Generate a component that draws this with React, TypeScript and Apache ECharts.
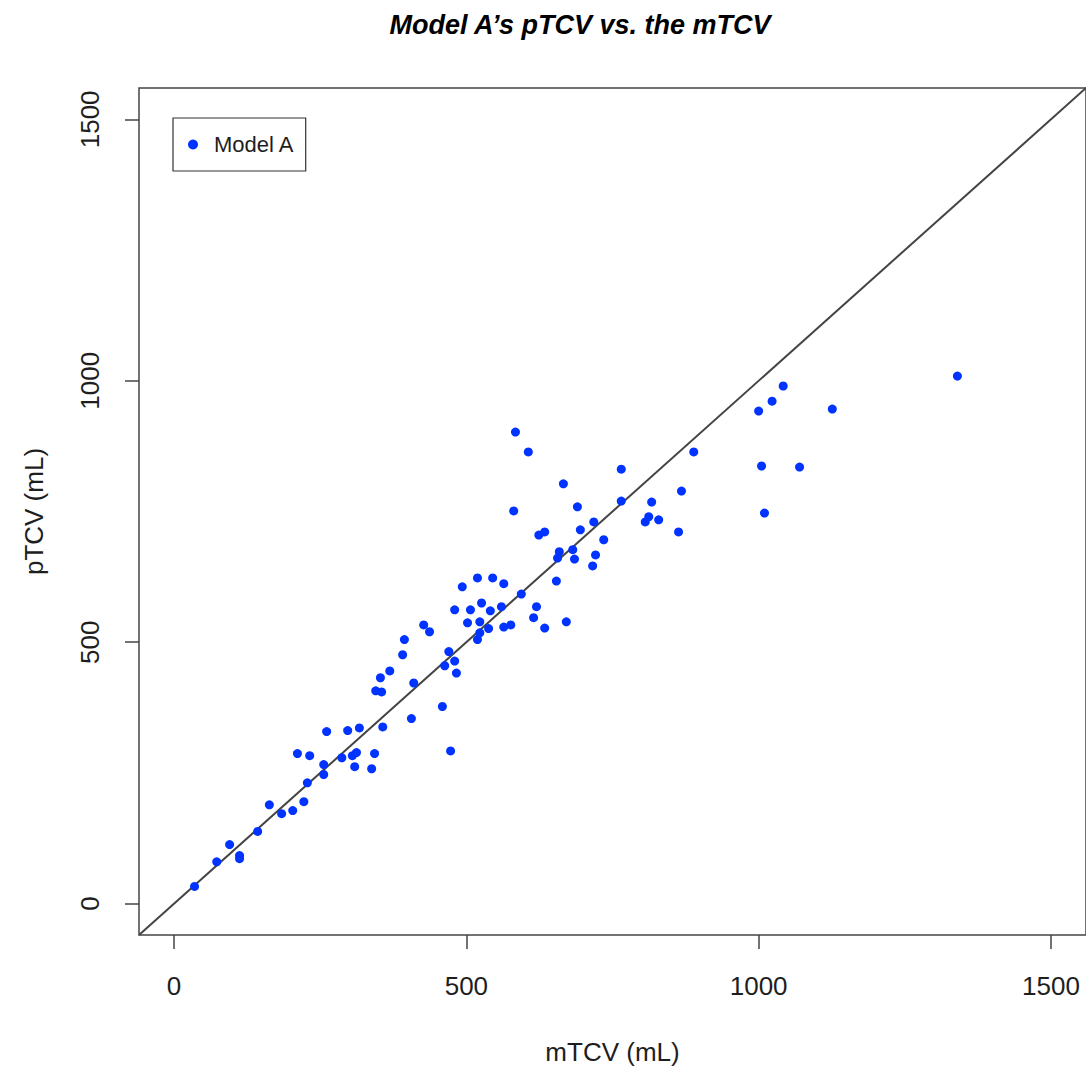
import React, { useEffect, useRef } from "react";
import * as echarts from "echarts";

const TITLE = "Model A\u2019s pTCV vs. the mTCV";
const X_NAME = "mTCV (mL)";
const Y_NAME = "pTCV (mL)";
const SERIES_NAME = "Model A";

const AXIS_MIN = -60;
const AXIS_MAX = 1560;
const TICKS = [0, 500, 1000, 1500];
const REF_LINE = [-60, 1560];

const mTCV = [
  35, 73, 95, 112, 112, 143, 163, 184, 203, 222, 228, 211, 232, 256, 256, 261,
  287, 297, 305, 312, 309, 317, 338, 343, 357, 345, 355, 353, 369, 391, 394,
  410, 406, 427, 437, 459, 463, 470, 473, 480, 483, 480, 493, 502, 507, 519,
  519, 523, 523, 526, 538, 541, 545, 560, 564, 564, 576, 584, 581, 594, 606,
  615, 620, 634, 624, 634, 654, 659, 656, 666, 671, 682, 685, 690, 695, 718,
  721, 716, 735, 765, 765, 806, 812, 817, 829, 863, 868, 889, 1000, 1005, 1010,
  1023, 1042, 1070, 1126, 1340,
];

const pTCV = [
  33, 80, 113, 92, 86, 138, 189, 172, 178, 195, 231, 287, 283, 266, 247, 329,
  279, 331, 283, 289, 262, 336, 258, 287, 338, 407, 405, 432, 445, 476, 505,
  422, 354, 533, 520, 377, 455, 482, 292, 464, 441, 562, 606, 537, 562, 623,
  505, 518, 539, 575, 526, 560, 623, 568, 612, 529, 533, 902, 751, 592, 864,
  547, 568, 527, 705, 711, 617, 673, 661, 803, 539, 677, 659, 759, 715, 730,
  667, 646, 696, 831, 770, 730, 740, 768, 734, 711, 789, 864, 942, 837, 747,
  961, 990, 835, 946, 1009,
];

const FONT = "'Liberation Sans', Arial, Helvetica, sans-serif";
const INK = "#1e1e1e";
const LINE = "#444444";

export default function App() {
  const ref = useRef<HTMLDivElement>(null);

  useEffect(() => {
    if (!ref.current) return;
    const chart = echarts.init(ref.current, null, { renderer: "svg" });
    const points = mTCV.map((x, i) => [x, pTCV[i]]);
    const axisCommon = {
      type: "value",
      min: AXIS_MIN,
      max: AXIS_MAX,
      splitLine: { show: false },
      axisLine: { show: false, onZero: false },
      axisTick: {
        show: true,
        inside: false,
        length: 14,
        customValues: TICKS,
        lineStyle: { color: LINE, width: 1.5 },
      },
      nameLocation: "middle",
      nameTextStyle: { fontFamily: FONT, fontSize: 26, color: INK },
    };
    chart.setOption({
      animation: false,
      backgroundColor: "#ffffff",
      title: {
        text: TITLE,
        left: 580,
        top: 11,
        textAlign: "center",
        padding: 0,
        textStyle: {
          fontFamily: FONT,
          fontSize: 27,
          fontWeight: "bold",
          fontStyle: "italic",
          color: "#000",
        },
      },
      legend: {
        left: 173,
        top: 118,
        orient: "vertical",
        data: [{ name: SERIES_NAME, icon: "circle" }],
        itemWidth: 10,
        itemHeight: 10,
        padding: [15.5, 11, 15.5, 15],
        borderColor: "#333",
        borderWidth: 1.2,
        textStyle: {
          fontFamily: FONT,
          fontSize: 22,
          color: INK,
          lineHeight: 22,
          padding: [0, 0, 0, 11],
        },
      },
      grid: {
        left: 139,
        right: 0,
        top: 88,
        bottom: 135,
        show: true,
        borderColor: LINE,
        borderWidth: 1.5,
        backgroundColor: "transparent",
      },
      xAxis: {
        ...axisCommon,
        name: X_NAME,
        nameGap: 104,
        axisLabel: {
          customValues: TICKS,
          formatter: (v: number) => String(v),
          margin: 38,
          fontFamily: FONT,
          fontSize: 26,
          color: INK,
        },
      },
      yAxis: {
        ...axisCommon,
        name: Y_NAME,
        nameGap: 92,
        nameRotate: 90,
        axisLabel: {
          customValues: TICKS,
          formatter: (v: number) => String(v),
          rotate: 90,
          margin: 36,
          fontFamily: FONT,
          fontSize: 26,
          color: INK,
        },
      },
      series: [
        {
          type: "line",
          data: [
            [REF_LINE[0], REF_LINE[0]],
            [REF_LINE[1], REF_LINE[1]],
          ],
          symbol: "none",
          silent: true,
          clip: true,
          lineStyle: { color: LINE, width: 2 },
          z: 1,
        },
        {
          name: SERIES_NAME,
          type: "scatter",
          data: points,
          symbol: "circle",
          symbolSize: 9,
          itemStyle: { color: "#0033ff", opacity: 1 },
          z: 3,
        },
      ],
    });
    return () => chart.dispose();
  }, []);

  return (
    <div
      ref={ref}
      style={{ position: "absolute", left: 0, top: 0, width: 1086, height: 1070 }}
    />
  );
}
